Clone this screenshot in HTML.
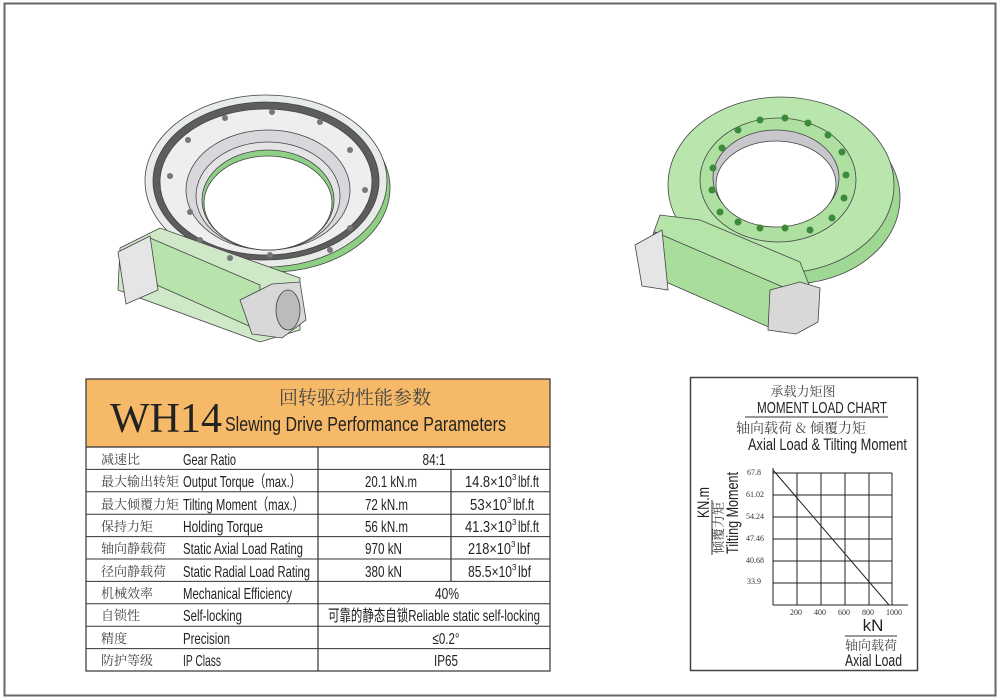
<!DOCTYPE html>
<html><head><meta charset="utf-8"><style>
html,body{margin:0;padding:0;background:#fff;}
svg{display:block;}
.t{font-family:"Liberation Sans","Noto Sans CJK SC",sans-serif;fill:#222;}
.c{font-family:"Noto Serif CJK SC","Noto Sans CJK SC",serif;fill:#444;}
</style></head><body>
<svg width="1000" height="700" viewBox="0 0 1000 700" xmlns="http://www.w3.org/2000/svg">
<rect x="4.5" y="3.5" width="991" height="692" fill="#fff" stroke="#666" stroke-width="2"/>

<!-- Left drive -->
<g stroke="#444" stroke-width="0.8">
  <ellipse cx="272" cy="188" rx="118" ry="84" fill="#8fcf84"/>
  <ellipse cx="266" cy="181" rx="121" ry="86" fill="#e8ece8"/>
  <ellipse cx="266" cy="181" rx="113" ry="79" fill="#5d5d5d"/>
  <ellipse cx="266" cy="182" rx="106" ry="73" fill="#eeeeee"/>
  <ellipse cx="268" cy="190" rx="82" ry="60" fill="#d8d8dc"/>
  <ellipse cx="268" cy="196" rx="72" ry="54" fill="#e4e4e6"/>
  <ellipse cx="268" cy="200" rx="66" ry="50" fill="#8fd088"/>
  <ellipse cx="268" cy="203" rx="64" ry="47" fill="#fff"/>
  <polygon points="120,248 160,228 300,278 300,330 260,342 118,290" fill="#cfe9c8"/>
  <polygon points="150,238 260,285 258,330 150,282" fill="#b8e3ad"/>
  <polygon points="118,252 150,236 158,290 126,304" fill="#e5e5e5"/>
  <polygon points="240,300 272,284 300,282 306,320 282,338 252,334" fill="#d8d8d8"/>
  <ellipse cx="288" cy="310" rx="12" ry="20" fill="#bbb"/>
</g>
<g fill="#777">
  <circle cx="190" cy="212" r="3"/><circle cx="200" cy="240" r="3"/><circle cx="230" cy="258" r="3"/><circle cx="270" cy="255" r="3"/>
  <circle cx="330" cy="250" r="3"/><circle cx="350" cy="228" r="3"/><circle cx="365" cy="190" r="3"/><circle cx="350" cy="150" r="3"/>
  <circle cx="320" cy="122" r="3"/><circle cx="272" cy="112" r="3"/><circle cx="225" cy="118" r="3"/><circle cx="188" cy="140" r="3"/>
  <circle cx="170" cy="176" r="3"/>
</g>

<!-- Right drive -->
<g stroke="#444" stroke-width="0.8">
  <ellipse cx="790" cy="198" rx="110" ry="86" fill="#9fd894"/>
  <ellipse cx="781" cy="185" rx="113" ry="88" fill="#b8e6ac"/>
  <ellipse cx="778" cy="180" rx="78" ry="62" fill="#aee0a2"/>
  <ellipse cx="776" cy="178" rx="63" ry="48" fill="#c8c8cc"/>
  <ellipse cx="776" cy="184" rx="60" ry="43" fill="#fff"/>
  <polygon points="660,215 700,220 800,262 815,300 795,330 640,270" fill="#b5e4a9"/>
  <polygon points="655,232 790,290 780,332 650,275" fill="#a9dd9c"/>
  <polygon points="635,245 662,230 668,290 642,286" fill="#e5e5e5"/>
  <polygon points="770,290 800,282 820,288 818,322 796,334 768,330" fill="#d8d8d8"/>
</g>
<g fill="#3d8a3a">
  <circle cx="720" cy="212" r="3.5"/><circle cx="712" cy="190" r="3.5"/><circle cx="713" cy="168" r="3.5"/><circle cx="722" cy="148" r="3.5"/>
  <circle cx="738" cy="130" r="3.5"/><circle cx="760" cy="120" r="3.5"/><circle cx="785" cy="118" r="3.5"/><circle cx="808" cy="123" r="3.5"/>
  <circle cx="828" cy="135" r="3.5"/><circle cx="842" cy="152" r="3.5"/><circle cx="846" cy="175" r="3.5"/><circle cx="844" cy="198" r="3.5"/>
  <circle cx="832" cy="218" r="3.5"/><circle cx="810" cy="230" r="3.5"/><circle cx="785" cy="228" r="3.5"/><circle cx="760" cy="228" r="3.5"/><circle cx="738" cy="222" r="3.5"/>
</g>

<!-- Table -->
<rect x="86" y="379" width="464" height="68" fill="#f5b968"/>
<text x="110" y="432" font-family="Liberation Serif,serif" font-size="42" fill="#222">WH14</text>
<text x="279" y="404" class="c" font-size="19" fill="#333">回转驱动性能参数</text>
<text x="225" y="431" class="t" font-size="20" textLength="281" lengthAdjust="spacingAndGlyphs">Slewing Drive Performance Parameters</text>
<g stroke="#333" stroke-width="1.2" fill="none">
  <rect x="86" y="379" width="464" height="292"/>
  <line x1="86" y1="447" x2="550" y2="447"/>
  <line x1="318" y1="447" x2="318" y2="671"/>
  <line x1="451" y1="469.4" x2="451" y2="581"/>
</g>
<g stroke="#333" stroke-width="1">
  <line x1="86" y1="469.4" x2="550" y2="469.4"/><line x1="86" y1="491.8" x2="550" y2="491.8"/>
  <line x1="86" y1="514.2" x2="550" y2="514.2"/><line x1="86" y1="536.6" x2="550" y2="536.6"/>
  <line x1="86" y1="559" x2="550" y2="559"/><line x1="86" y1="581.4" x2="550" y2="581.4"/>
  <line x1="86" y1="603.8" x2="550" y2="603.8"/><line x1="86" y1="626.2" x2="550" y2="626.2"/>
  <line x1="86" y1="648.6" x2="550" y2="648.6"/>
</g>
<g font-size="13">
  <g class="c"><text x="101" y="464">减速比</text><text x="101" y="486">最大输出转矩</text><text x="101" y="509">最大倾覆力矩</text>
  <text x="101" y="531">保持力矩</text><text x="101" y="553">轴向静载荷</text><text x="101" y="576">径向静载荷</text>
  <text x="101" y="598">机械效率</text><text x="101" y="620">自锁性</text><text x="101" y="643">精度</text><text x="101" y="665">防护等级</text></g>
  <g class="t" font-size="16">
  <text x="183" y="465" textLength="53" lengthAdjust="spacingAndGlyphs">Gear Ratio</text>
  <text x="183" y="487" textLength="118" lengthAdjust="spacingAndGlyphs">Output Torque（max.）</text>
  <text x="183" y="510" textLength="121" lengthAdjust="spacingAndGlyphs">Tilting Moment（max.）</text>
  <text x="183" y="532" textLength="80" lengthAdjust="spacingAndGlyphs">Holding Torque</text>
  <text x="183" y="554" textLength="120" lengthAdjust="spacingAndGlyphs">Static Axial Load Rating</text>
  <text x="183" y="577" textLength="127" lengthAdjust="spacingAndGlyphs">Static Radial Load Rating</text>
  <text x="183" y="599" textLength="109" lengthAdjust="spacingAndGlyphs">Mechanical Efficiency</text>
  <text x="183" y="621" textLength="59" lengthAdjust="spacingAndGlyphs">Self-locking</text>
  <text x="183" y="644" textLength="47" lengthAdjust="spacingAndGlyphs">Precision</text>
  <text x="183" y="666" textLength="38" lengthAdjust="spacingAndGlyphs">IP Class</text>
  <text x="434" y="465" text-anchor="middle" textLength="23" lengthAdjust="spacingAndGlyphs">84:1</text>
  <text x="365" y="487" textLength="52" lengthAdjust="spacingAndGlyphs">20.1 kN.m</text>
  <text x="365" y="510" textLength="43" lengthAdjust="spacingAndGlyphs">72 kN.m</text>
  <text x="365" y="532" textLength="43" lengthAdjust="spacingAndGlyphs">56 kN.m</text>
  <text x="365" y="554" textLength="37" lengthAdjust="spacingAndGlyphs">970 kN</text>
  <text x="365" y="577" textLength="37" lengthAdjust="spacingAndGlyphs">380 kN</text>

  <text x="465" y="487" textLength="47" lengthAdjust="spacingAndGlyphs">14.8×10</text><text x="512" y="480" font-size="8">3</text><text x="518" y="487" textLength="21" lengthAdjust="spacingAndGlyphs">lbf.ft</text>
  <text x="470" y="510" textLength="37" lengthAdjust="spacingAndGlyphs">53×10</text><text x="507" y="503" font-size="8">3</text><text x="513" y="510" textLength="21" lengthAdjust="spacingAndGlyphs">lbf.ft</text>
  <text x="465" y="532" textLength="47" lengthAdjust="spacingAndGlyphs">41.3×10</text><text x="512" y="525" font-size="8">3</text><text x="518" y="532" textLength="21" lengthAdjust="spacingAndGlyphs">lbf.ft</text>
  <text x="468" y="554" textLength="43" lengthAdjust="spacingAndGlyphs">218×10</text><text x="511" y="547" font-size="8">3</text><text x="517" y="554" textLength="13" lengthAdjust="spacingAndGlyphs">lbf</text>
  <text x="468" y="577" textLength="44" lengthAdjust="spacingAndGlyphs">85.5×10</text><text x="512" y="570" font-size="8">3</text><text x="518" y="577" textLength="13" lengthAdjust="spacingAndGlyphs">lbf</text>

  <text x="447" y="599" text-anchor="middle" textLength="24" lengthAdjust="spacingAndGlyphs">40%</text>
  <text x="328" y="621" textLength="212" lengthAdjust="spacingAndGlyphs">可靠的静态自锁Reliable static self-locking</text>
  <text x="446" y="644" text-anchor="middle" textLength="27" lengthAdjust="spacingAndGlyphs">≤0.2°</text>
  <text x="446" y="666" text-anchor="middle" textLength="24" lengthAdjust="spacingAndGlyphs">IP65</text>
  </g>
</g>

<!-- Chart -->
<rect x="690.5" y="377.5" width="227" height="293" fill="#fff" stroke="#444" stroke-width="1.5"/>
<text x="803" y="396" class="c" font-size="13" text-anchor="middle">承载力矩图</text>
<text x="757" y="413" class="t" font-size="16" textLength="130" lengthAdjust="spacingAndGlyphs">MOMENT LOAD CHART</text>
<line x1="745" y1="417" x2="888" y2="417" stroke="#333"/>
<text x="801" y="433" class="c" font-size="14" text-anchor="middle">轴向载荷 &amp; 倾覆力矩</text>
<text x="748" y="450" class="t" font-size="17" textLength="159" lengthAdjust="spacingAndGlyphs">Axial Load &amp; Tilting Moment</text>
<g stroke="#222" stroke-width="1" fill="none">
  <line x1="773" y1="473" x2="892" y2="473"/><line x1="773" y1="495" x2="892" y2="495"/><line x1="773" y1="517" x2="892" y2="517"/>
  <line x1="773" y1="539" x2="892" y2="539"/><line x1="773" y1="561" x2="892" y2="561"/><line x1="773" y1="583" x2="892" y2="583"/>
  <line x1="773" y1="605" x2="908" y2="605"/>
  <line x1="773" y1="468" x2="773" y2="605"/><line x1="797" y1="473" x2="797" y2="605"/><line x1="821" y1="473" x2="821" y2="605"/>
  <line x1="845" y1="473" x2="845" y2="605"/><line x1="869" y1="473" x2="869" y2="605"/><line x1="892" y1="473" x2="892" y2="605"/>
  <line x1="773" y1="470" x2="889" y2="605"/>
</g>
<g font-family="Liberation Serif,serif" font-size="8" fill="#333" text-anchor="end">
  <text x="761" y="475">67.8</text><text x="764" y="497">61.02</text><text x="764" y="519">54.24</text>
  <text x="764" y="541">47.46</text><text x="764" y="563">40.68</text><text x="761" y="584">33.9</text>
</g>
<g font-family="Liberation Serif,serif" font-size="8" fill="#333" text-anchor="middle">
  <text x="796" y="615">200</text><text x="820" y="615">400</text><text x="844" y="615">600</text><text x="868" y="615">800</text><text x="894" y="615">1000</text>
</g>
<g transform="translate(709,518) rotate(-90)">
  <text x="0" y="0" class="t" font-size="17" textLength="31" lengthAdjust="spacingAndGlyphs">KN.m</text>
</g>
<line x1="712" y1="500" x2="712" y2="555" stroke="#333"/>
<g transform="translate(723,528) rotate(-90)">
  <text x="0" y="0" class="c" font-size="13" text-anchor="middle">倾覆力矩</text>
</g>
<g transform="translate(738,554) rotate(-90)">
  <text x="0" y="0" class="t" font-size="17" textLength="82" lengthAdjust="spacingAndGlyphs">Tilting Moment</text>
</g>
<text x="873" y="631" class="t" font-size="17" text-anchor="middle">kN</text>
<line x1="845" y1="636" x2="897" y2="636" stroke="#333"/>
<text x="871" y="650" class="c" font-size="13" text-anchor="middle">轴向载荷</text>
<text x="845" y="666" class="t" font-size="17" textLength="57" lengthAdjust="spacingAndGlyphs">Axial Load</text>
</svg>
</body></html>
